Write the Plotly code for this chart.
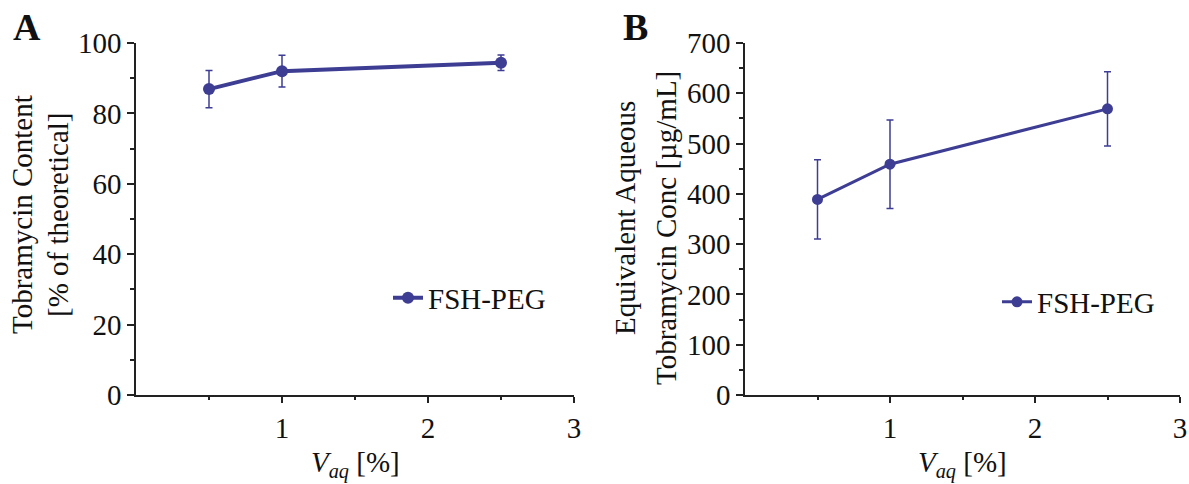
import plotly.graph_objects as go

# ---- data ----
vaq = [0.5, 1.0, 2.5]
content = [86.9, 92.0, 94.4]
content_err = [5.3, 4.5, 2.2]
conc = [389, 459, 569]
conc_err = [79, 88, 74]
series_name = "FSH-PEG"
x_ticks = [1, 2, 3]
x_minor = [0.5, 1.5, 2.5]
yA_ticks = [0, 20, 40, 60, 80, 100]
yB_ticks = [0, 100, 200, 300, 400, 500, 600, 700]

COL = "#3d3d94"
FONT = "Liberation Serif"
W, H = 1189, 484

def px(x):
    return x / W

def py(y):
    return (H - y) / H

fig = go.Figure()
fig.add_trace(go.Scatter(
    x=vaq, y=content, name=series_name, mode="lines+markers",
    line=dict(color=COL, width=4), marker=dict(color=COL, size=12),
    error_y=dict(type="data", array=content_err, color=COL, thickness=1.5, width=3.5),
    xaxis="x", yaxis="y", legend="legend", cliponaxis=False))
fig.add_trace(go.Scatter(
    x=vaq, y=conc, name=series_name, mode="lines+markers",
    line=dict(color=COL, width=3), marker=dict(color=COL, size=11),
    error_y=dict(type="data", array=conc_err, color=COL, thickness=1.5, width=3.5),
    xaxis="x2", yaxis="y2", legend="legend2", cliponaxis=False))

ydom = [py(395), py(43)]
axcommon = dict(showline=True, linecolor="#222", linewidth=1.5, showgrid=False,
                zeroline=False, ticks="outside", tickcolor="#222", tickwidth=1.5,
                automargin=False, ticklabeloverflow="allow",
                tickfont=dict(family=FONT, size=29, color="#111"))

fig.update_layout(
    width=W, height=H, autosize=False,
    margin=dict(l=0, r=0, t=0, b=0),
    paper_bgcolor="white", plot_bgcolor="white",
    font=dict(family=FONT, size=29, color="#111"),
    xaxis=dict(domain=[px(136), px(574)], range=[0, 3], tickvals=x_ticks, ticklen=6,
               minor=dict(tickvals=x_minor, ticks="outside", ticklen=3, tickcolor="#222", tickwidth=1.5),
               anchor="y", **axcommon),
    yaxis=dict(domain=ydom, range=[0, 100], tickvals=yA_ticks, ticklen=7,
               minor=dict(dtick=10, ticks="outside", ticklen=4, tickcolor="#222", tickwidth=1.5),
               anchor="x", **axcommon),
    xaxis2=dict(domain=[px(745), px(1180)], range=[0, 3], tickvals=x_ticks, ticklen=6,
                minor=dict(tickvals=x_minor, ticks="outside", ticklen=3, tickcolor="#222", tickwidth=1.5),
                anchor="y2", **axcommon),
    yaxis2=dict(domain=ydom, range=[0, 700], tickvals=yB_ticks, ticklen=7,
                minor=dict(dtick=50, ticks="outside", ticklen=4, tickcolor="#222", tickwidth=1.5),
                anchor="x2", **axcommon),
    legend=dict(x=px(388), y=py(298), xanchor="left", yanchor="middle",
                bgcolor="rgba(0,0,0,0)", font=dict(family=FONT, size=29, color="#111")),
    legend2=dict(x=px(997), y=py(302), xanchor="left", yanchor="middle",
                 bgcolor="rgba(0,0,0,0)", font=dict(family=FONT, size=29, color="#111")),
    showlegend=True,
)

ann = []
def add(text, x, y, size=29, angle=0, bold=False):
    ann.append(dict(text=f"<b>{text}</b>" if bold else text, x=px(x), y=py(y),
                    xref="paper", yref="paper", showarrow=False, textangle=angle,
                    xanchor="center", yanchor="middle",
                    font=dict(family=FONT, size=size, color="#111")))

add("A", 27, 27, size=38, bold=True)
add("B", 635, 27, size=38, bold=True)
add("Tobramycin Content", 22, 215, angle=-90)
add("[% of theoretical]", 58, 215, angle=-90)
add("Equivalent Aqueous", 625, 218, angle=-90)
add("Tobramycin Conc [µg/mL]", 666, 228, angle=-90)
add("<i>V</i><sub><i>aq</i></sub> [%]", 355, 464)
add("<i>V</i><sub><i>aq</i></sub> [%]", 962, 464)
fig.update_layout(annotations=ann)

fig.write_html("out.html", config={"displayModeBar": False},
               post_script="document.body.style.margin='0';document.body.style.overflow='hidden';")
